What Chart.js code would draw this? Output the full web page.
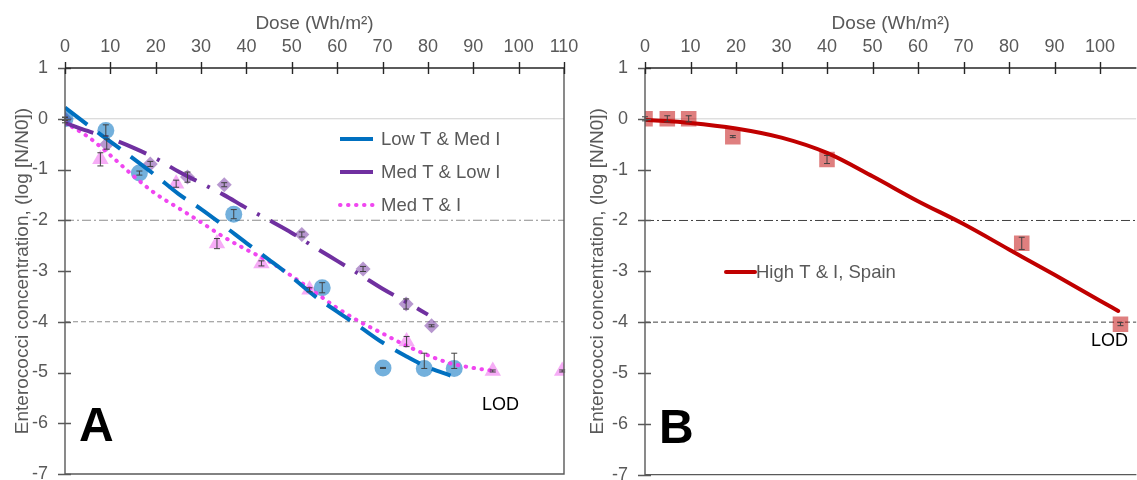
<!DOCTYPE html>
<html>
<head>
<meta charset="utf-8">
<script src="https://cdn.jsdelivr.net/npm/chart.js@4/dist/chart.umd.min.js"></script>
<style>
  html, body { margin: 0; padding: 0; background: #fff; width: 1137px; height: 480px; overflow: hidden; }
  canvas { position: absolute; top: 0; }
  #chartA { left: 0; }
  #chartB { left: 575px; }
  .tag { position: absolute; font-family: "Liberation Sans", Arial, sans-serif; color: #000; line-height: 1; white-space: nowrap; }
  .panel-letter { font-weight: bold; font-size: 48px; }
  .lod { font-size: 18px; }
</style>
</head>
<body>
<canvas id="chartA" width="582" height="480"></canvas>
<canvas id="chartB" width="590" height="480"></canvas>
<div class="tag panel-letter" style="left:79px; top:401px;">A</div>
<div class="tag panel-letter" style="left:659px; top:403px;">B</div>
<div class="tag lod" style="left:482px; top:395px;">LOD</div>
<div class="tag lod" style="left:1091px; top:331px;">LOD</div>
<script>
// Axis ranges, tick values and reference levels (log reduction)
const doseMinA = 0, doseMaxA = 110;
const doseMinB = 0, doseMaxB = 108;
const doseTicksA = [0, 10, 20, 30, 40, 50, 60, 70, 80, 90, 100, 110];
const doseTicksB = [0, 10, 20, 30, 40, 50, 60, 70, 80, 90, 100];
const logTicks = [1, 0, -1, -2, -3, -4, -5, -6, -7];
const logMin = -7, logMax = 1;
const refLevels = [0, -2, -4];
const doseTitle = 'Dose (Wh/m\u00B2)';
const concTitle = 'Enterococci concentration, (log [N/N0])';

// Panel A — measured points
const lowTMedI_dose    = [0, 9, 16.4, 37.2, 56.7, 70.1, 79.2, 85.8];
const lowTMedI_log     = [0, -0.23, -1.07, -1.88, -3.33, -4.91, -4.92, -4.92];
const lowTMedI_errUp   = [0.03, 0.11, 0.04, 0.09, 0.1, 0.01, 0.3, 0.3];
const lowTMedI_errDown = [0.03, 0.11, 0.04, 0.09, 0.1, 0.01, 0, 0];

const medTLowI_dose = [0, 9.2, 18.8, 27, 35.1, 52.2, 65.7, 75.2, 80.8];
const medTLowI_log  = [0, -0.5, -0.89, -1.15, -1.3, -2.28, -2.96, -3.65, -4.08];
const medTLowI_err  = [0.03, 0.1, 0.05, 0.1, 0.04, 0.05, 0.05, 0.1, 0.02];

const medTI_dose = [0, 7.8, 24.5, 33.5, 43.3, 53.9, 75.3, 94.3, 109.6];
const medTI_log  = [-0.05, -0.8, -1.28, -2.46, -2.85, -3.37, -4.39, -4.97, -4.97];
const medTI_err  = [0.03, 0.13, 0.07, 0.1, 0.05, 0.04, 0.1, 0.02, 0.02];

// Panel A — fitted inactivation curves
const lowTMedI_fitDose = [0, 5, 10, 15, 20, 25, 30, 35, 40, 45, 50, 55, 60, 65, 70, 75, 80, 85];
const lowTMedI_fitLog  = [0.22, -0.12, -0.45, -0.78, -1.12, -1.48, -1.78, -2.11, -2.45, -2.78, -3.12, -3.49, -3.80, -4.10, -4.41, -4.67, -4.90, -5.06];

const medTLowI_fitDose = [0, 5, 10, 15, 20, 25, 30, 35, 40, 45, 50, 55, 60, 65, 70, 75, 80];
const medTLowI_fitLog  = [-0.08, -0.24, -0.39, -0.57, -0.78, -1.04, -1.27, -1.50, -1.76, -2.00, -2.25, -2.53, -2.80, -3.07, -3.35, -3.60, -3.86];

const medTI_fitDose = [0, 5, 10, 15, 20, 25, 30, 35, 40, 45, 50, 55, 60, 65, 70, 75, 80, 85, 90, 94];
const medTI_fitLog  = [-0.08, -0.35, -0.72, -1.12, -1.48, -1.76, -2.04, -2.33, -2.58, -2.81, -3.10, -3.41, -3.73, -4.00, -4.23, -4.46, -4.66, -4.82, -4.91, -4.96];

// Panel B — measured points and fitted curve
const spain_dose = [0, 4.9, 9.6, 19.3, 40, 82.8, 104.5];
const spain_log  = [0, 0, 0, -0.35, -0.8, -2.45, -4.04];
const spain_err  = [0.04, 0.06, 0.06, 0.02, 0.08, 0.12, 0.03];

const spain_fitDose = [0, 10, 20, 30, 40, 50, 60, 70, 80, 90, 100, 104];
const spain_fitLog  = [-0.02, -0.08, -0.19, -0.37, -0.67, -1.13, -1.62, -2.07, -2.57, -3.07, -3.58, -3.78];

const FONT = '"Liberation Sans", Arial, sans-serif';
const TEXT_GREY = '#595959';

function pts(xs, ys) { return xs.map((x, i) => ({ x, y: ys[i] })); }

function refDatasets(xMin, xMax, dashColor) {
  const styles = [
    { color: '#d0d0d0', dash: [], width: 1 },
    { color: dashColor, dash: [9, 3, 2, 3], width: 1 },
    { color: dashColor, dash: [5, 3], width: 1 }
  ];
  return refLevels.map((lvl, i) => ({
    type: 'line',
    data: [{ x: xMin, y: lvl }, { x: xMax, y: lvl }],
    borderColor: styles[i].color,
    borderDash: styles[i].dash,
    borderWidth: styles[i].width,
    pointRadius: 0,
    order: 20
  }));
}

function markerSet(xs, ys, up, down, style, color, radius) {
  return {
    type: 'scatter',
    data: pts(xs, ys),
    pointStyle: style,
    pointRadius: radius,
    pointHoverRadius: radius,
    pointBackgroundColor: color,
    pointBorderWidth: 0,
    showLine: false,
    order: 10,
    errUp: up,
    errDown: down
  };
}

function fitLine(label, xs, ys, color, dash, cap, legendDash) {
  return {
    type: 'line',
    label,
    data: pts(xs, ys),
    borderColor: color,
    borderWidth: 4,
    borderDash: dash,
    borderCapStyle: cap,
    pointRadius: 0,
    cubicInterpolationMode: 'monotone',
    order: 1,
    inLegend: true,
    legendDash
  };
}

// Axis lines, crossing tick marks, frame, error bars and inline legend
const decorations = {
  id: 'decorations',
  afterDatasetsDraw(chart) {
    const { ctx, scales: { x, y } } = chart;
    ctx.save();
    ctx.strokeStyle = '#404040';
    ctx.lineWidth = 1;
    chart.data.datasets.forEach((ds) => {
      if (!ds.errUp) return;
      ds.data.forEach((p, i) => {
        const px = x.getPixelForValue(p.x);
        const yt = y.getPixelForValue(p.y + ds.errUp[i]);
        const yb = y.getPixelForValue(p.y - ds.errDown[i]);
        ctx.beginPath();
        ctx.moveTo(px, yt); ctx.lineTo(px, yb);
        ctx.moveTo(px - 3, yt); ctx.lineTo(px + 3, yt);
        ctx.moveTo(px - 3, yb); ctx.lineTo(px + 3, yb);
        ctx.stroke();
      });
    });
    ctx.restore();
  },
  afterDraw(chart, args, opts) {
    const { ctx, chartArea: ca, scales: { x, y } } = chart;
    ctx.save();
    // frame: left, bottom (and right where requested)
    ctx.strokeStyle = '#595959';
    ctx.lineWidth = 1.4;
    ctx.beginPath();
    ctx.moveTo(ca.left, ca.top); ctx.lineTo(ca.left, ca.bottom);
    ctx.lineTo(ca.right, ca.bottom);
    if (opts.rightEdge) ctx.lineTo(ca.right, ca.top);
    ctx.stroke();
    // y tick marks crossing the axis
    ctx.beginPath();
    y.ticks.forEach((t, i) => {
      const py = Math.round(y.getPixelForTick(i)) + 0.5;
      ctx.moveTo(ca.left - 7, py); ctx.lineTo(ca.left + 6, py);
    });
    ctx.stroke();
    // top dose axis with crossing tick marks
    ctx.strokeStyle = '#262626';
    ctx.beginPath();
    ctx.moveTo(ca.left, ca.top); ctx.lineTo(ca.right, ca.top);
    x.ticks.forEach((t, i) => {
      const px = Math.round(x.getPixelForTick(i)) + 0.5;
      ctx.moveTo(px, ca.top - 6); ctx.lineTo(px, ca.top + 6);
    });
    ctx.stroke();

    // inline legend
    const lg = opts.legend;
    if (lg) {
      const items = chart.data.datasets.filter(d => d.inLegend);
      ctx.font = '18.5px ' + FONT;
      ctx.textBaseline = 'middle';
      ctx.fillStyle = TEXT_GREY;
      items.forEach((d, i) => {
        const yy = lg.rows[i];
        ctx.save();
        ctx.strokeStyle = d.borderColor;
        ctx.lineWidth = d.borderWidth;
        ctx.lineCap = d.borderCapStyle || 'butt';
        ctx.setLineDash(d.legendDash || []);
        ctx.beginPath();
        ctx.moveTo(lg.x0, yy); ctx.lineTo(lg.x1, yy);
        ctx.stroke();
        ctx.restore();
        ctx.fillText(d.label, lg.tx, yy + 1);
      });
    }
    ctx.restore();
  }
};

function makeOptions(xMin, xMax, xTicks, yWidth, padRight, padBottom, deco) {
  const tickFont = { family: FONT, size: 18 };
  const titleFont = { family: FONT, size: 19 };
  const yTickFont = { family: FONT, size: 18, lineHeight: 0.6 };
  return {
    responsive: false,
    animation: false,
    devicePixelRatio: 1,
    layout: { autoPadding: false, padding: { left: 0, top: 0, right: padRight, bottom: padBottom } },
    plugins: { legend: { display: false }, tooltip: { enabled: false }, decorations: deco },
    scales: {
      x: {
        type: 'linear', position: 'top',
        min: xMin, max: xMax,
        ticks: { color: TEXT_GREY, font: tickFont, padding: 0, maxRotation: 0, autoSkip: false },
        grid: { display: false, drawTicks: true, tickLength: 10, tickColor: 'rgba(0,0,0,0)' },
        border: { display: false },
        title: { display: true, text: doseTitle, color: TEXT_GREY, font: titleFont, padding: { top: 12, bottom: 0 } },
        afterBuildTicks(s) { s.ticks = xTicks.map(v => ({ value: v })); },
        afterFit(s) { s.height = 68; }
      },
      y: {
        type: 'linear', position: 'left',
        min: logMin, max: logMax,
        ticks: { color: TEXT_GREY, font: yTickFont, padding: 0 },
        grid: { display: false, drawTicks: true, tickLength: 17, tickColor: 'rgba(0,0,0,0)' },
        border: { display: false },
        title: { display: true, text: concTitle, color: TEXT_GREY, font: titleFont, padding: { top: 11, bottom: 0 } },
        afterBuildTicks(s) { s.ticks = logTicks.slice().reverse().map(v => ({ value: v })); },
        afterFit(s) { s.width = yWidth; }
      }
    }
  };
}

const lowColor = '#0070C0', medLowColor = '#7030A0', medColor = '#F046F0', spainColor = '#C00000';

const dsA = [
  ...refDatasets(doseMinA, doseMaxA, '#8c8c8c'),
  markerSet(lowTMedI_dose, lowTMedI_log, lowTMedI_errUp, lowTMedI_errDown, 'circle', 'rgba(0,112,192,0.55)', 8.5),
  markerSet(medTLowI_dose, medTLowI_log, medTLowI_err, medTLowI_err, 'rectRot', 'rgba(112,48,160,0.5)', 7.5),
  markerSet(medTI_dose, medTI_log, medTI_err, medTI_err, 'triangle', 'rgba(238,90,238,0.5)', 9.5),
  fitLine('Low T & Med I', lowTMedI_fitDose, lowTMedI_fitLog, lowColor, [28, 13], 'butt', []),
  fitLine('Med T & Low I', medTLowI_fitDose, medTLowI_fitLog, medLowColor, [30, 12, 3, 12], 'butt', []),
  fitLine('Med T & I', medTI_fitDose, medTI_fitLog, medColor, [0.5, 7.5], 'round', [0.5, 7.5])
];

new Chart(document.getElementById('chartA'), {
  data: { datasets: dsA },
  options: makeOptions(doseMinA, doseMaxA, doseTicksA, 65, 18, 6, { rightEdge: true, legend: { x0: 340, x1: 373, tx: 381, rows: [139, 172, 205] } }),
  plugins: [decorations]
});

const dsB = [
  ...refDatasets(doseMinB, doseMaxB, '#404040'),
  markerSet(spain_dose, spain_log, spain_err, spain_err, 'rect', 'rgba(192,0,0,0.5)', 11),
  fitLine('High T & I, Spain', spain_fitDose, spain_fitLog, spainColor, [], 'round', [])
];

new Chart(document.getElementById('chartB'), {
  data: { datasets: dsB },
  options: makeOptions(doseMinB, doseMaxB, doseTicksB, 70, 28.6, 4, { rightEdge: false, legend: { x0: 151, x1: 180, tx: 181, rows: [272] } }),
  plugins: [decorations]
});
</script>
</body>
</html>
